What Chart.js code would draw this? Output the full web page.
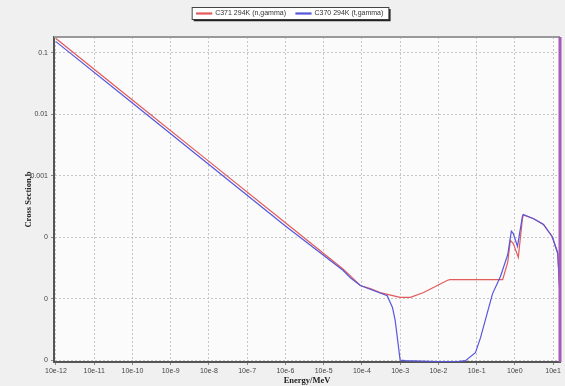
<!DOCTYPE html>
<html>
<head>
<meta charset="utf-8">
<script src="https://cdn.jsdelivr.net/npm/chart.js@4/dist/chart.umd.min.js"></script>
<style>
  html, body { margin:0; padding:0; background:#f0f0f0; }
  #wrap { width:565px; height:386px; }
</style>
</head>
<body>
<div id="wrap"><canvas id="c" width="565" height="386"></canvas></div>
<script>
// series (energy in MeV, cross section in b)
const redName = 'C371 294K (n,gamma)';
const blueName = 'C370 294K (t,gamma)';

const redE = [1e-12, 1e-10, 1e-8, 1e-6, 3.2e-5, 5.0e-5, 9.1e-5, 1.66e-4, 3.0e-4, 1e-3, 1.86e-3, 4.1e-3, 1.74e-2, 2.0e-2, 0.48, 0.65, 0.76, 0.91, 1.23, 1.58, 1.66, 3.1, 5.6, 9.5, 13.2, 14.8];
const redV = [0.172, 0.0172, 1.72e-3, 1.72e-4, 3.05e-5, 2.35e-5, 1.64e-5, 1.46e-5, 1.26e-5, 1.05e-5, 1.05e-5, 1.26e-5, 2.0e-5, 2.04e-5, 2.04e-5, 3.9e-5, 8.9e-5, 7.9e-5, 4.7e-5, 2.04e-4, 2.3e-4, 2.0e-4, 1.62e-4, 1.02e-4, 5.5e-5, 1.45e-5];

const blueE = [1e-12, 1e-10, 1e-8, 1e-6, 3.2e-5, 5.0e-5, 9.1e-5, 3.0e-4, 4.6e-4, 6.3e-4, 7.4e-4, 8.9e-4, 1.0e-3, 1.38e-3, 9.3e-3, 3.2e-2, 5.1e-2, 9.3e-2, 0.126, 0.26, 0.42, 0.65, 0.81, 0.91, 1.17, 1.58, 1.66, 3.1, 5.6, 9.5, 13.2, 14.8, 15.1];
const blueV = [0.153, 0.0153, 1.53e-3, 1.53e-4, 2.9e-5, 2.2e-5, 1.64e-5, 1.24e-5, 1.12e-5, 7.2e-6, 4.5e-6, 1.8e-6, 1.0e-6, 9.8e-7, 9.5e-7, 9.5e-7, 9.8e-7, 1.32e-6, 2.3e-6, 1.2e-5, 2.3e-5, 5.2e-5, 1.26e-4, 1.15e-4, 7.1e-5, 2.2e-4, 2.35e-4, 2.0e-4, 1.62e-4, 1.02e-4, 5.5e-5, 1.45e-5, 5e-7];

const xTicks = [1e-12, 1e-11, 1e-10, 1e-9, 1e-8, 1e-7, 1e-6, 1e-5, 1e-4, 1e-3, 1e-2, 1e-1, 1e0, 1e1];
const xLabels = ['10e-12','10e-11','10e-10','10e-9','10e-8','10e-7','10e-6','10e-5','10e-4','10e-3','10e-2','10e-1','10e0','10e1'];
const yTicks = [0.1, 0.01, 0.001, 1e-4, 1e-5, 1e-6];
const yLabels = ['0.1','0.01','0.001','0','0','0'];

const pts = (xs, ys) => xs.map((x,i)=>({x:x, y:ys[i]}));
const LEG_SHIFT = 10;

const frame = {
  id:'frame',
  beforeLayout(chart){
    const lg = chart.legend;
    if(lg && !lg._patched){
      const fit = lg.fit;
      lg.fit = function(){ fit.call(this); this.height = 37; };
      const draw = lg.draw;
      lg.draw = function(){
        this.ctx.save(); this.ctx.translate(LEG_SHIFT, 0);
        draw.apply(this, arguments);
        this.ctx.restore();
      };
      lg._patched = true;
    }
  },
  beforeDraw(chart){
    const ctx = chart.ctx, a = chart.chartArea;
    ctx.save();
    ctx.fillStyle = '#fbfbfb';
    ctx.fillRect(a.left, a.top, a.right-a.left, a.bottom-a.top);
    const hb = chart.legend.legendHitBoxes || [];
    if(hb.length){
      const l = Math.min(...hb.map(h=>h.left)) - 5 + LEG_SHIFT;
      const r = Math.max(...hb.map(h=>h.left+h.width)) + 5 + LEG_SHIFT;
      const t = hb[0].top - 3, h = hb[0].height + 5;
      ctx.fillStyle = '#fff';
      ctx.fillRect(l, t, r-l, h);
      ctx.strokeStyle = '#444'; ctx.lineWidth = 1;
      ctx.strokeRect(l+0.5, t+0.5, r-l, h);
      ctx.strokeStyle = '#222'; ctx.lineWidth = 1.5;
      ctx.beginPath(); ctx.moveTo(l+2, t+h+1.5); ctx.lineTo(r+1.5, t+h+1.5); ctx.lineTo(r+1.5, t+2); ctx.stroke();
    }
    ctx.restore();
  },
  afterDatasetsDraw(chart){
    const ctx = chart.ctx, a = chart.chartArea;
    ctx.save();
    ctx.strokeStyle = '#999'; ctx.lineWidth = 2;
    ctx.beginPath(); ctx.moveTo(a.left, a.top); ctx.lineTo(a.right, a.top); ctx.stroke();
    ctx.strokeStyle = '#a55ab5'; ctx.lineWidth = 3;
    ctx.beginPath(); ctx.moveTo(a.right, a.top); ctx.lineTo(a.right, a.bottom); ctx.stroke();
    ctx.restore();
  }
};

new Chart(document.getElementById('c'), {
  type:'line',
  data:{
    datasets:[
      {label:redName, data:pts(redE, redV), borderColor:'#e25a5a', backgroundColor:'#e25a5a', borderWidth:1.2, pointRadius:0, tension:0, order:1},
      {label:blueName, data:pts(blueE, blueV), borderColor:'#5656dc', backgroundColor:'#5656dc', borderWidth:1.2, pointRadius:0, tension:0, order:0}
    ]
  },
  options:{
    responsive:false, animation:false,
    layout:{padding:{left:0, right:5, top:0, bottom:0}},
    plugins:{
      tooltip:{enabled:false},
      legend:{
        display:true, position:'top',
        labels:{
          sort:(a,b)=>a.datasetIndex-b.datasetIndex,
          boxWidth:15, boxHeight:1, padding:10,
          color:'#333', font:{family:'Liberation Sans, Arial', size:7}
        }
      }
    },
    scales:{
      x:{
        type:'logarithmic', min:Math.pow(10,-12.05), max:Math.pow(10,1.18),
        afterBuildTicks:s=>{ s.ticks = xTicks.map(v=>({value:v})); },
        afterFit:s=>{ s.height = 24; },
        ticks:{ autoSkip:false, maxRotation:0, padding:2, color:'#444', font:{family:'Liberation Sans, Arial', size:7},
          callback:(v,i)=>xLabels[i] },
        grid:{ color:'#c6c6c6', tickLength:3, tickColor:'#888' },
        border:{ color:'#555', width:2, dash:[2,2] },
        title:{ display:true, text:'Energy/MeV', color:'#222', padding:0, font:{family:'Liberation Serif, Times New Roman', size:8.5, weight:'bold'} }
      },
      y:{
        type:'logarithmic', min:Math.pow(10,-6.03), max:Math.pow(10,-0.74),
        afterBuildTicks:s=>{ s.ticks = yTicks.map(v=>({value:v})); },
        afterFit:s=>{ s.width = 54; },
        ticks:{ autoSkip:false, padding:3, color:'#444', font:{family:'Liberation Sans, Arial', size:7},
          callback:(v,i)=>yLabels[i] },
        grid:{ color:'#c6c6c6', tickLength:3, tickColor:'#888' },
        border:{ color:'#555', width:2, dash:[2,2] },
        title:{ display:true, text:'Cross Section,b', color:'#222', padding:{top:24,bottom:0}, font:{family:'Liberation Serif, Times New Roman', size:8.5, weight:'bold'} }
      }
    }
  },
  plugins:[frame]
});
</script>
</body>
</html>
